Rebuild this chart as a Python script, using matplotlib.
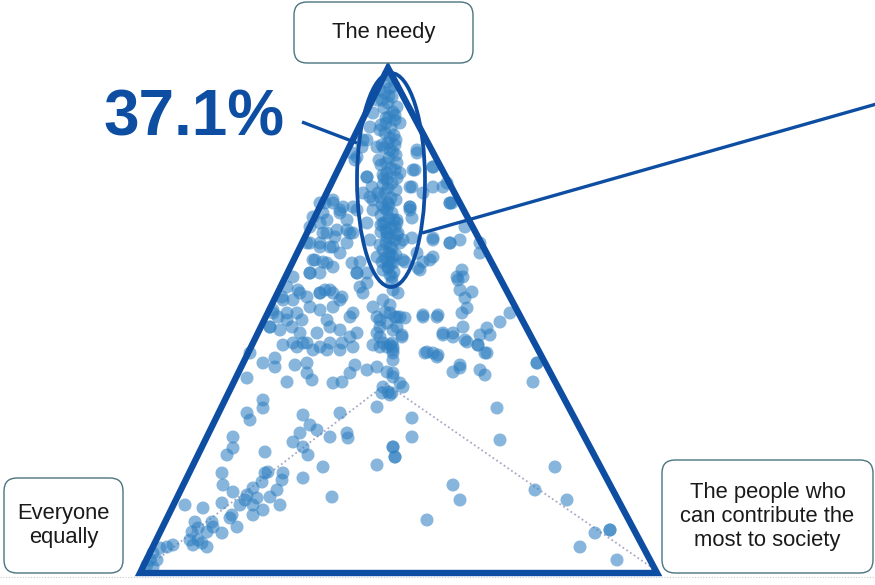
import matplotlib
matplotlib.use("Agg")
import matplotlib.pyplot as plt
from matplotlib.patches import Polygon, Ellipse, FancyBboxPatch

plt.rcParams['font.family'] = ['Liberation Sans', 'DejaVu Sans']

# ---- data: respondent positions on the chart canvas (x right, y down) ----
column_x = [388, 387, 390, 385, 392, 388, 384, 393, 389, 386, 391, 385, 390, 388, 384, 393, 389, 386, 391, 387,
            384, 392, 388, 385, 391, 388, 384, 392, 389, 385, 391, 387, 390, 386, 392, 389, 385, 391, 388, 390, 392,
            380, 387, 383, 387, 390, 393, 388, 377, 370, 367, 373, 397, 400, 403, 392,
            380, 395, 380, 396, 379, 397, 381, 396, 380, 397, 383, 383, 390, 385]
column_y = [75, 82, 88, 93, 97, 103, 108, 112, 117, 123, 128, 133, 138, 143, 148, 152, 158, 163, 168, 173,
            178, 183, 188, 193, 198, 203, 208, 213, 218, 223, 228, 233, 238, 243, 248, 253, 258, 263, 268, 275, 282,
            197, 210, 223, 237, 247, 257, 267, 257, 240, 223, 210, 223, 243, 260, 277,
            90, 115, 130, 140, 160, 178, 215, 200, 245, 235, 270, 300, 305, 312]
column2_x = [394, 382, 395, 381, 394, 382, 396, 381, 395, 383, 396, 382, 394, 381, 395, 383, 396, 382, 394, 381,
             395, 383, 389, 386, 390, 387, 389, 386, 390, 388]
column2_y = [86, 100, 120, 125, 135, 145, 155, 165, 170, 185, 190, 205, 220, 225, 240, 250, 255, 262, 272, 232,
             145, 175, 96, 118, 150, 180, 205, 230, 255, 262]

upper_x = [377, 373, 397, 400, 370, 367, 362, 352, 355, 377, 417, 415, 433, 397, 400, 367, 372, 378, 370, 412,
           423, 433, 447, 452, 410, 363, 357, 367, 363, 373, 357,
           325, 333, 343, 353, 320, 333, 313, 327, 340, 310, 323, 337, 350, 307, 320, 333, 347, 313, 327,
           310, 293, 283, 273, 270, 287, 297, 300, 320, 330, 340, 357, 363, 353, 373, 380, 390, 397, 377, 387,
           400, 423, 437, 443, 453, 433, 457, 430, 433, 450, 420, 417, 403, 410, 417, 413, 410, 433, 443, 450]
upper_y = [100, 113, 107, 123, 127, 140, 147, 153, 160, 147, 153, 170, 167, 163, 173, 177, 187, 193, 197, 187,
           193, 187, 183, 203, 207, 140, 157, 177, 193, 200, 210,
           203, 203, 207, 207, 203, 200, 217, 220, 213, 227, 233, 230, 233, 243, 247, 247, 243, 260, 263,
           273, 277, 300, 313, 327, 320, 313, 293, 293, 290, 300, 273, 293, 313, 307, 320, 313, 327, 333, 347,
           317, 317, 317, 333, 337, 353, 277, 260, 240, 243, 270, 253, 240, 210, 150, 170, 187, 167, 187, 203]

middle_x = [323, 340, 347, 320, 327, 335, 347, 353, 310, 320, 330, 340, 315, 323, 333, 310, 320, 352, 360, 357,
            367, 367, 360, 287, 298, 282, 293, 307, 320, 325, 333, 342, 310, 320, 333, 273, 278, 287, 302, 270,
            280, 292, 300, 317, 330, 340, 350, 327, 350, 357, 377, 380, 380, 387, 397, 393, 402, 307, 330, 342,
            293, 380, 390,
            410, 412, 450, 397, 395, 398, 412, 433, 450, 460, 480, 480, 465, 433, 423, 418, 405, 393, 462, 463,
            458, 460, 472, 465, 467, 462, 393, 398, 395, 405, 423, 438, 510, 500, 487, 490, 480, 463, 453, 443,
            465, 478, 485, 402, 427, 438, 537, 460, 392, 393]
middle_y = [213, 210, 220, 223, 233, 237, 230, 233, 243, 243, 247, 253, 260, 262, 267, 273, 273, 263, 262, 273,
            273, 283, 287, 287, 290, 297, 300, 297, 293, 290, 293, 297, 307, 310, 307, 310, 317, 313, 320, 327,
            330, 327, 333, 333, 327, 330, 317, 320, 337, 333, 317, 327, 337, 323, 317, 330, 337, 343, 343, 343,
            343, 347, 345,
            207, 218, 203, 220, 227, 233, 238, 238, 243, 240, 243, 253, 227, 257, 262, 268, 262, 263, 270, 277,
            280, 290, 292, 298, 308, 313, 290, 293, 317, 318, 315, 315, 313, 322, 328, 335, 335, 327, 333, 335,
            340, 345, 353, 335, 352, 355, 363, 365, 343, 353]

lower_left_x = [283, 297, 303, 313, 320, 327, 340, 353, 373, 383, 393, 250, 263, 275, 275, 295, 307, 307, 312, 287,
                247, 333, 342, 350, 355, 367, 377, 387, 393, 383, 388, 382, 390, 377, 263, 263, 247, 250, 303, 340,
                310, 317, 330, 347, 348, 233, 233, 227, 265, 293, 300, 303, 308, 323, 377, 393, 395, 222, 223, 233,
                265, 268, 283, 282, 277, 262, 253, 247, 245, 257, 270, 303, 332, 280, 263, 253, 253, 240, 232, 230,
                222, 237, 222, 212, 213, 203, 185, 195, 198, 207, 198, 190, 192, 202, 207, 193, 173, 167, 160, 153,
                157, 150, 147, 153]
lower_left_y = [345, 347, 343, 350, 347, 350, 350, 347, 345, 343, 347, 353, 363, 358, 367, 365, 363, 373, 380, 382,
                378, 383, 382, 373, 365, 370, 367, 372, 377, 387, 392, 393, 395, 407, 400, 408, 413, 420, 415, 413,
                425, 430, 437, 433, 438, 437, 448, 455, 452, 442, 433, 447, 455, 467, 465, 447, 457, 473, 485, 492,
                473, 472, 473, 480, 490, 482, 488, 495, 500, 498, 497, 478, 497, 505, 510, 515, 505, 505, 515, 518,
                503, 527, 533, 522, 527, 508, 505, 522, 528, 532, 540, 540, 532, 543, 547, 545, 545, 547, 548, 553,
                560, 560, 565, 567]

lower_right_x = [393, 393, 393, 400, 403, 392, 425, 437, 453, 460, 467, 478, 487, 480, 485, 497, 500, 412, 412, 393,
                 395, 537, 533, 555, 453, 460, 427, 535, 567, 595, 610, 610, 580, 617]
lower_right_y = [350, 360, 373, 383, 387, 393, 353, 357, 372, 368, 342, 345, 353, 370, 375, 408, 440, 418, 437, 447,
                 457, 363, 382, 467, 485, 500, 520, 490, 500, 533, 530, 530, 547, 560]

pos_x = column_x + column2_x + upper_x + middle_x + lower_left_x + lower_right_x
pos_y = column_y + column2_y + upper_y + middle_y + lower_left_y + lower_right_y

# vertices of the ternary frame: apex ("The needy"), bottom-left, bottom-right
tri_x = [388, 140, 657]
tri_y = [68, 573, 573]
center_pt = (386, 384)

callout_value = "37.1%"
label_top = "The needy"
label_left = "Everyone\nequally"
label_right = "The people who\ncan contribute the\nmost to society"

BLUE = "#0d4ea2"

fig = plt.figure(figsize=(8.75, 5.85), dpi=100)
ax = fig.add_axes([0, 0, 1, 1])
ax.set_xlim(0, 875)
ax.set_ylim(585, 0)
ax.set_aspect('equal')
ax.axis('off')

# faint baseline of the slide
ax.plot([0, 875], [577, 577], ls=(0, (1, 1.5)), color="#c8c8d0", lw=0.8, zorder=0)

# dotted guide lines
ax.plot([tri_x[1] + 5, center_pt[0], tri_x[2] - 3], [tri_y[1] - 4, center_pt[1], tri_y[2] - 4],
        ls=(0, (1, 1.5)), color="#a9a9c6", lw=1.3, zorder=1)

# respondents
ax.scatter(pos_x, pos_y, s=88, color="#3080c2", alpha=0.58, edgecolors='none', zorder=2)

# triangle frame
tri = Polygon(list(zip(tri_x, tri_y)), closed=True, fill=False, ec=BLUE, lw=4.6,
              joinstyle='miter', zorder=4)
ax.add_patch(tri)

# ellipse highlight
ax.add_patch(Ellipse((391, 180), 68, 214, fill=False, ec=BLUE, lw=2.7, zorder=5))

# pointer lines
ax.plot([302, 357], [122, 143], color=BLUE, lw=2.4, zorder=5, solid_capstyle='butt')
ax.plot([422, 880], [233, 103], color=BLUE, lw=2.4, zorder=5, solid_capstyle='butt')

ax.text(103, 135, callout_value, fontsize=46, fontweight='bold', color=BLUE,
        ha='left', va='baseline', zorder=6)

def label_box(x0, y0, w, h, text):
    box = FancyBboxPatch((x0, y0), w, h, boxstyle="round,pad=0,rounding_size=13",
                         fc='white', ec="#4a7480", lw=1.0, zorder=6)
    ax.add_patch(box)
    ax.text(x0 + w / 2, y0 + h / 2, text, fontsize=15.8, color="#1a1a1a",
            ha='center', va='center', linespacing=1.2, zorder=7)

label_box(294, 2, 179, 61, label_top)
label_box(4, 478, 119, 95, label_left)
label_box(662, 460, 211, 113, label_right)

fig.savefig("out.png", dpi=100)
